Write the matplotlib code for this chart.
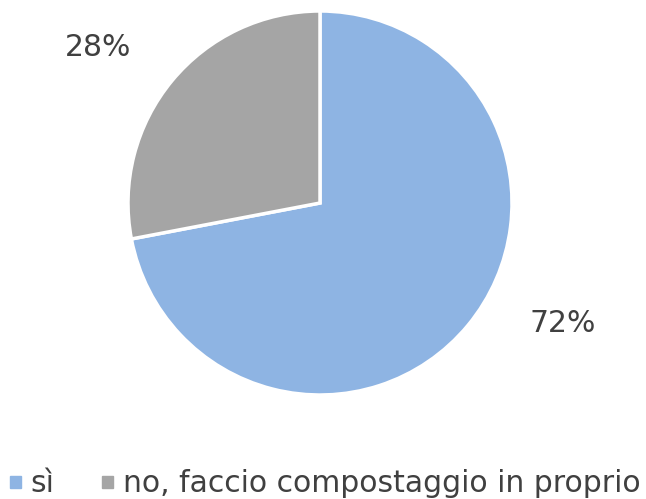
import matplotlib
matplotlib.use("Agg")
import matplotlib.pyplot as plt
import numpy as np

categories = ["sì", "no, faccio compostaggio in proprio"]
values = [72, 28]
colors = ["#8EB4E3", "#A5A5A5"]
label_angles = [-26.4, 145.0]  # label placement angles (degrees)
label_dist = 1.41

W, H = 646, 499
fig = plt.figure(figsize=(W / 100, H / 100), dpi=100)
cx, cy, r = 320, 203, 192
ax = fig.add_axes([(cx - r) / W, (H - cy - r) / H, 2 * r / W, 2 * r / H])

wedges, texts, autotexts = ax.pie(
    values, colors=colors, startangle=90, counterclock=False,
    wedgeprops=dict(edgecolor="white", linewidth=2.5),
    autopct=lambda p: f"{p:.0f}%", pctdistance=label_dist,
    textprops=dict(fontsize=21.5, color="#404040"),
)
for t, a in zip(autotexts, label_angles):
    rad = np.deg2rad(a)
    t.set_position((label_dist * np.cos(rad), label_dist * np.sin(rad)))
ax.set_xlim(-1, 1)
ax.set_ylim(-1, 1)
ax.set_aspect("equal")

handles = [plt.Rectangle((0, 0), 1, 1, color=c) for c in colors]
fig.legend(handles, categories, loc="center", bbox_to_anchor=(325 / W, 1 - 484 / H),
           ncol=2, frameon=False, fontsize=21.5, labelcolor="#404040",
           handlelength=0.36, handleheight=0.25, handletextpad=0.33,
           columnspacing=1.6, borderpad=0, borderaxespad=0)

fig.savefig("out.png", dpi=100)
